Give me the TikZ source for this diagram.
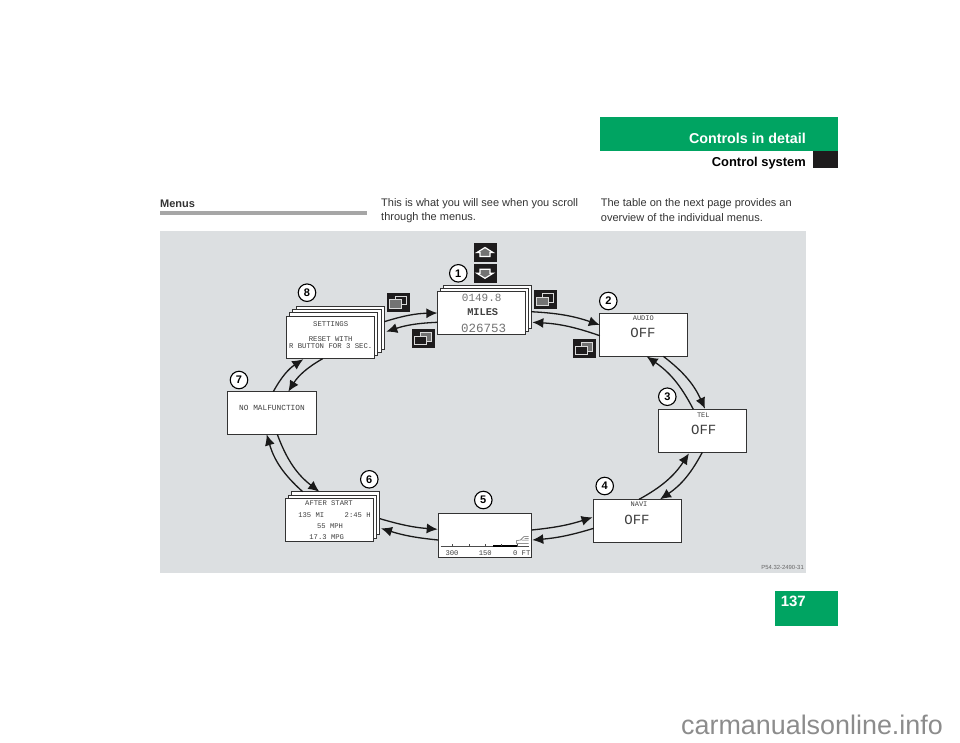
\documentclass[tikz,border=0pt]{standalone}
\usepackage{fontspec}
\usetikzlibrary{arrows.meta}
\setmainfont{Liberation Sans}
\newfontfamily\lcdfont{Liberation Mono}
\definecolor{pagegreen}{HTML}{00A462}
\definecolor{panelgray}{HTML}{DCDFE1}
\definecolor{iconblack}{HTML}{1E1C1D}
\tikzset{
  lcd/.style={draw=black!80,fill=white,line width=0.9pt,inner sep=0pt,outer sep=0pt,minimum width=#1},
  lcd/.default=88pt,
  lcdtext/.style={font=\lcdfont\fontsize{#1}{#1}\selectfont,inner sep=0pt,text=black!75},
  bodytext/.style={font=\fontsize{11}{11}\selectfont,inner sep=0pt,anchor=west,text=black!80},
  num/.style={circle,draw=black,fill=white,line width=1.1pt,inner sep=0pt,minimum size=17.5pt,font=\bfseries\fontsize{11}{11}\selectfont},
  iconbox/.style={fill=iconblack,inner sep=0pt,minimum width=23pt,minimum height=19pt},
  flow/.style={-{Latex[length=11pt,width=10pt]},line width=1.3pt,black!90},
}
\newcommand{\winicon}[5]{%
  \node[iconbox] (#1) at (#2,#3) {};
  \draw[white!85!black,line width=0.7pt,fill=#5] ([shift={(-2.5,-6)}]#1.center) rectangle ([shift={(8.5,2.5)}]#1.center);
  \draw[white!85!black,line width=0.7pt,fill=#4] ([shift={(-8.5,-2.5)}]#1.center) rectangle ([shift={(3.5,6)}]#1.center);
}
\begin{document}
\begin{tikzpicture}[x=1pt,y=-1pt]
\useasboundingbox (0,0) rectangle (960,742);

% page furniture
\node[fill=pagegreen,inner sep=0pt,minimum width=237.4pt,minimum height=34pt] (tab) at (719,133.7) {};
\node[fill=iconblack,inner sep=0pt,minimum width=24.4pt,minimum height=17.3pt] (tabsquare) at (825.5,159.35) {};
\node[fill=pagegreen,inner sep=0pt,minimum width=62.4pt,minimum height=35pt] (pagebox) at (806.5,608.2) {};
\node[anchor=east,inner sep=0pt,text=white,font=\bfseries\fontsize{14.3}{14.3}\selectfont] (chapter) at (806,138.7) {Controls in detail};
\node[anchor=east,inner sep=0pt,text=black,font=\bfseries\fontsize{12.9}{12.9}\selectfont] (section) at (806,162.7) {Control system};
\node[anchor=east,inner sep=0pt,text=white,font=\bfseries\fontsize{15}{15}\selectfont] (pageno) at (806,601.7) {137};
\node[bodytext,font=\bfseries\fontsize{11}{11}\selectfont] (menus) at (160,203.5) {Menus};
\node[fill=black!35,inner sep=0pt,minimum width=207pt,minimum height=3.4pt] (menusrule) at (263.5,212.8) {};
\node[bodytext] (introa) at (381,203.5) {This is what you will see when you scroll};
\node[bodytext] (introb) at (381,218) {through the menus.};
\node[bodytext] (nexta) at (600.7,203.5) {The table on the next page provides an};
\node[bodytext] (nextb) at (600.7,218) {overview of the individual menus.};
\node[inner sep=0pt,text=black!45,font=\fontsize{26.9}{26.9}\selectfont] (watermark) at (812,725) {carmanualsonline.info};

% panel
\node[fill=panelgray,inner sep=0pt,minimum width=646pt,minimum height=342.5pt] (panel) at (483,402.2) {};
\node[anchor=east,inner sep=0pt,text=black!60,font=\fontsize{5.9}{5.9}\selectfont] (partno) at (804,567.7) {P54.32-2490-31};

% stacked displays, back sheet first
\foreach \i in {3,2,1}
  \node[lcd=88.3pt,minimum height=42.7pt] (settings\i) at (330.2+3.3*\i,337.3-3.1*\i) {};
\node[lcd=88.3pt,minimum height=42.7pt] (settings) at (330.2,337.3) {};
\foreach \i in {2,1}
  \node[lcd=87.7pt,minimum height=42.6pt] (odo\i) at (481.2+3*\i,313-3*\i) {};
\node[lcd=87.7pt,minimum height=42.6pt] (odo) at (481.2,313) {};
\foreach \i in {2,1}
  \node[lcd=87.6pt,minimum height=43pt] (trip\i) at (329.5+3*\i,519.8-3.3*\i) {};
\node[lcd=87.6pt,minimum height=43pt] (trip) at (329.5,519.8) {};

% single displays
\node[lcd,minimum height=42.6pt] (audio) at (643.8,335) {};
\node[lcd,minimum height=43pt] (tel) at (702.3,430.8) {};
\node[lcd,minimum height=42.7pt] (navi) at (637.8,520.7) {};
\node[lcd=93.4pt,minimum height=44.7pt] (road) at (485,535.3) {};
\node[lcd=89pt,minimum height=42.7pt] (malf) at (271.8,413) {};

% display texts
\node[lcdtext=11,text=black!55] (odoa) at (481.7,298.3) {0149.8};
\node[lcdtext=10.3,font=\lcdfont\bfseries\fontsize{10.3}{10.3}\selectfont] (odob) at (482.7,312.3) {MILES};
\node[lcdtext=12.5,text=black!55] (odoc) at (483.7,328) {026753};
\node[lcdtext=7] (audioa) at (643.3,318.3) {AUDIO};
\node[lcdtext=14] (audiob) at (643,333.3) {OFF};
\node[lcdtext=7] (tela) at (703.3,415) {TEL};
\node[lcdtext=14] (telb) at (703.7,430) {OFF};
\node[lcdtext=7] (navia) at (639,504.3) {NAVI};
\node[lcdtext=14] (navib) at (637,520) {OFF};
\node[lcdtext=7.3] (seta) at (330.7,324) {SETTINGS};
\node[lcdtext=7.3] (setb) at (330.7,338.7) {RESET WITH};
\node[lcdtext=7.3] (setc) at (330.7,346.3) {R BUTTON FOR 3 SEC.};
\node[lcdtext=7.8] (malfa) at (272,408.3) {NO MALFUNCTION};
\node[lcdtext=7.2] (tripa) at (329,503.3) {AFTER START};
\node[lcdtext=7.2] (tripb) at (311.3,514.7) {135 MI};
\node[lcdtext=7.2] (tripc) at (357.7,514.7) {2:45 H};
\node[lcdtext=7.2] (tripd) at (330,526.3) {55 MPH};
\node[lcdtext=7.2] (tripe) at (326.7,536.7) {17.3 MPG};
\node[lcdtext=7.2] (roada) at (452,553.3) {300};
\node[lcdtext=7.2] (roadb) at (485.3,553.3) {150};
\node[lcdtext=7.2] (roadc) at (521.7,553.3) {0 FT};

% distance scale and car
\draw[black!70,line width=0.6pt] (440.7,546) -- (529.3,546);
\draw[black,line width=1.6pt] (493.3,546) -- (516.7,546);
\foreach \x in {452,469,485.3,501.7,517.7}
  \draw[black!70,line width=0.6pt] (\x,546) -- (\x,544);
\draw[black!65,line width=0.5pt] (516.5,543.5) -- (516.5,540.5) -- (520.5,540) -- (524,536.5) -- (528.5,536.5) (524.5,538.5) -- (528.5,538.5) (521.5,540) -- (528.5,540) (516.5,543.5) -- (528.5,543.5);

% numbers
\node[num] (n1) at (458.3,273.3) {1};
\node[num] (n2) at (608.3,301) {2};
\node[num] (n3) at (667.3,396.7) {3};
\node[num] (n4) at (604.7,486) {4};
\node[num] (n5) at (483.3,500) {5};
\node[num] (n6) at (369.3,479.3) {6};
\node[num] (n7) at (239,380) {7};
\node[num] (n8) at (307,292.7) {8};

% buttons
\node[iconbox] (btnup) at (485,252.5) {};
\draw[white,line width=1.2pt,fill=black!55] ([shift={(0,-5)}]btnup.center) -- ([shift={(8,0)}]btnup.center) -- ([shift={(5,0)}]btnup.center) -- ([shift={(5,4)}]btnup.center) -- ([shift={(-5,4)}]btnup.center) -- ([shift={(-5,0)}]btnup.center) -- ([shift={(-8,0)}]btnup.center) -- cycle;
\node[iconbox] (btndown) at (485,273.3) {};
\draw[white,line width=1.2pt,fill=black!55] ([shift={(0,5)}]btndown.center) -- ([shift={(8,0)}]btndown.center) -- ([shift={(5,0)}]btndown.center) -- ([shift={(5,-4)}]btndown.center) -- ([shift={(-5,-4)}]btndown.center) -- ([shift={(-5,0)}]btndown.center) -- ([shift={(-8,0)}]btndown.center) -- cycle;
\winicon{winright}{545.3}{299.5}{black!55}{iconblack}
\winicon{winleft}{398.3}{302}{black!55}{iconblack}
\winicon{winlower}{423.3}{338.8}{iconblack}{black!55}
\winicon{winaudio}{584.3}{348.6}{iconblack}{black!55}

% clockwise connectors
\draw[flow] ([shift={(0,-6.3)}]settings3.east) to[bend left=8] (odo.west);
\draw[flow] ([shift={(0,4.7)}]odo2.east) to[bend left=8] ([shift={(0,-10)}]audio.west);
\draw[flow] ([shift={(19.5,0)}]audio.south) to[bend left=14] ([shift={(2.7,-0.6)}]tel.north);
\draw[flow] (tel.south) to[bend left=14] ([shift={(22.2,0)}]navi.north);
\draw[flow] ([shift={(0,7.6)}]navi.west) to[bend left=6] ([shift={(0.6,4.7)}]road.east);
\draw[flow] ([shift={(0,4.7)}]road.west) to[bend left=6] ([shift={(1.7,15.1)}]trip2.east);
\draw[flow] ([shift={(-32.8,0)}]trip2.north) to[bend left=16] ([shift={(-5.1,0)}]malf.south);
\draw[flow] ([shift={(1.5,0)}]malf.north) to[bend left=14] ([shift={(-26.9,0.6)}]settings.south);

% counter-clockwise connectors
\draw[flow] ([shift={(0,9.3)}]odo.west) to[bend right=8] ([shift={(2,3.7)}]settings3.east);
\draw[flow] ([shift={(0,0.7)}]audio.west) to[bend right=8] ([shift={(1.3,15.3)}]odo2.east);
\draw[flow] ([shift={(-9,0)}]tel.north) to[bend right=14] ([shift={(2.9,0.2)}]audio.south);
\draw[flow] ([shift={(1.2,0)}]navi.north) to[bend right=14] ([shift={(-13.3,1)}]tel.south);
\draw[flow] ([shift={(0,-5.3)}]road.east) to[bend right=6] ([shift={(-1.3,-3.4)}]navi.west);
\draw[flow] ([shift={(0.7,5.5)}]trip2.east) to[bend right=6] ([shift={(-0.6,-6)}]road.west);
\draw[flow] ([shift={(5.5,0)}]malf.south) to[bend right=16] ([shift={(-16.2,0)}]trip2.north);
\draw[flow] ([shift={(-7.5,0)}]settings.south) to[bend right=14] ([shift={(16.5,0)}]malf.north);
\end{tikzpicture}
\end{document}
